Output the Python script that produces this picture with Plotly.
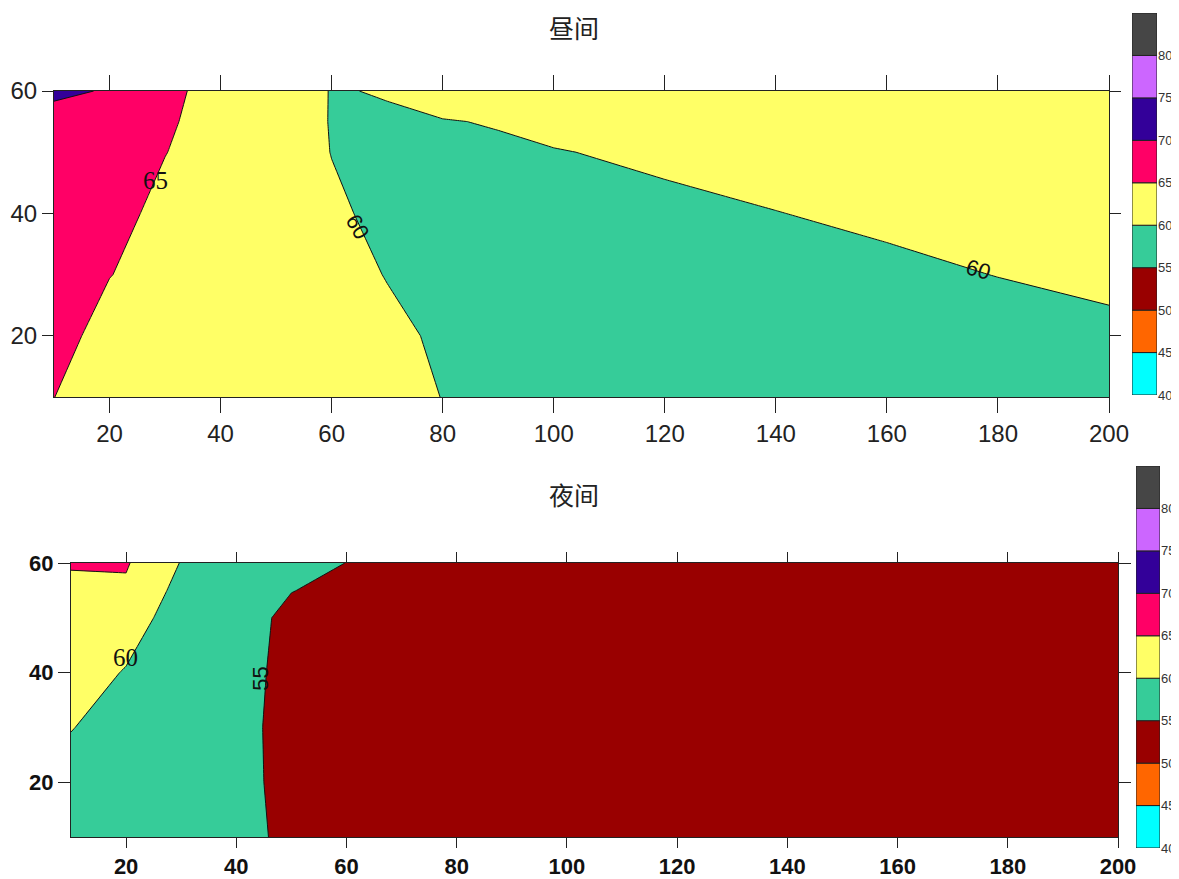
import plotly.graph_objects as go

# ---------------- data ----------------
x_day = [10, 20, 30, 40, 50, 60, 70, 80, 90, 100, 120, 140, 160, 180, 200]
y_day = [10, 20, 30, 40, 50, 55, 60]
z_day = [
    [65.02, 63.8, 63.4, 63.1, 62.8, 62.5, 62.0, 59.9, 59.3, 58.9, 58.4, 58.0, 57.8, 57.6, 57.5],  # y=10
    [66.5, 63.5, 63.0, 62.6, 62.1, 61.5, 60.6, 59.6, 59.3, 59.0, 58.7, 58.5, 58.6, 58.9, 59.4],   # y=20
    [67.5, 65.1, 63.5, 62.5, 61.7, 61.0, 59.9, 59.5, 59.3, 59.1, 59.0, 59.1, 59.45, 60.05, 60.6], # y=30
    [68.0, 66.5, 63.8, 62.8, 61.8, 60.4, 59.4, 59.3, 59.3, 59.4, 59.5, 59.95, 60.5, 60.9, 61.4],  # y=40
    [68.5, 67.5, 65.1, 63.0, 61.5, 59.95, 59.5, 59.6, 59.75, 59.9, 60.4, 61.0, 61.5, 62.0, 62.5], # y=50
    [68.0, 67.8, 65.5, 63.5, 62.0, 59.85, 59.6, 59.92, 60.1, 60.6, 61.0, 61.5, 62.0, 62.5, 63.0], # y=55
    [71.0, 69.6, 66.0, 63.5, 63.0, 59.8, 60.2, 60.8, 61.2, 61.5, 62.0, 62.5, 63.0, 63.5, 64.0],   # y=60
]

x_night = [10, 20, 30, 40, 50, 60, 70, 80, 90, 100, 120, 140, 160, 180, 200]
y_night = [10, 20, 30, 40, 50, 55, 60]
z_night = [
    [58.5, 57.8, 56.6, 55.7, 54.5, 54.0, 53.6, 53.3, 53.1, 52.9, 52.6, 52.4, 52.2, 52.1, 52.0],   # y=10
    [58.9, 58.0, 56.8, 55.6, 54.4, 53.9, 53.6, 53.3, 53.1, 52.9, 52.6, 52.4, 52.2, 52.1, 52.0],   # y=20
    [60.1, 58.8, 57.2, 55.55, 54.4, 53.9, 53.6, 53.3, 53.1, 52.9, 52.7, 52.5, 52.3, 52.2, 52.1],  # y=30
    [61.5, 59.8, 57.5, 55.6, 54.5, 54.0, 53.7, 53.4, 53.2, 53.0, 52.8, 52.6, 52.4, 52.3, 52.2],   # y=40
    [62.5, 61.5, 58.5, 55.9, 54.5, 54.1, 53.8, 53.5, 53.3, 53.1, 52.9, 52.7, 52.5, 52.4, 52.3],   # y=50
    [62.2, 64.3, 58.5, 56.5, 55.05, 54.5, 54.0, 53.7, 53.4, 53.2, 53.0, 52.8, 52.6, 52.5, 52.4],  # y=55
    [66.0, 65.4, 59.8, 57.5, 56.0, 54.97, 54.3, 53.9, 53.6, 53.4, 53.1, 52.9, 52.7, 52.6, 52.5],  # y=60
]

levels = [40, 45, 50, 55, 60, 65, 70, 75, 80, 85]
band_colors = ["#00FFFF", "#FF6600", "#990000", "#36CC99", "#FFFF66",
               "#FF0066", "#330099", "#CC66FF", "#464646"]
x_ticks = [20, 40, 60, 80, 100, 120, 140, 160, 180, 200]
y_ticks = [20, 40, 60]

titles = ["昼间", "夜间"]

# contour labels: (text, x, y, angle, font)
labels_day = [("65", 28.2, 45.3, 0, "serif"), ("60", 64.6, 37.8, 60, "sans"), ("60", 176.4, 30.8, 16, "sans")]
labels_night = [("60", 19.8, 42.8, 0, "serif"), ("55", 44.4, 38.8, -90, "sans")]

# ---------------- colorscale (step) ----------------
# plotly maps band [L, L+5] to colour at L+2.5 on a domain 37.5..87.5
ext_colors = [band_colors[0]] + band_colors + [band_colors[-1]]
n = len(ext_colors)
cscale = []
for i, c in enumerate(ext_colors):
    lo = 0 if i == 0 else (i - 0.5) / (n - 1)
    hi = 1 if i == n - 1 else (i + 0.5) / (n - 1)
    cscale.append([lo, c])
    cscale.append([hi, c])

fig = go.Figure()


def add_contour(x, y, z, xa, ya):
    fig.add_trace(go.Contour(
        x=x, y=y, z=z, xaxis=xa, yaxis=ya,
        colorscale=cscale, showscale=False,
        contours=dict(start=levels[0], end=levels[-1], size=5, coloring="fill", showlines=True),
        line=dict(color="#111111", width=1, smoothing=0),
        hoverinfo="skip",
    ))


add_contour(x_day, y_day, z_day, "x", "y")
add_contour(x_night, y_night, z_night, "x2", "y2")

# colour bars built from levels
for xa, ya in (("x3", "y3"), ("x4", "y4")):
    fig.add_trace(go.Bar(
        x=[0] * len(band_colors), y=[levels[i + 1] - levels[i] for i in range(len(band_colors))],
        base=levels[:-1], width=1, xaxis=xa, yaxis=ya,
        marker=dict(color=band_colors, line=dict(color="#222222", width=1)),
        showlegend=False, hoverinfo="skip",
    ))

# page body has an 8px margin: figure is offset accordingly and reaches the window edge
OFF = 8
W, H = 1179 - OFF, 879 - OFF


def px_dom_x(a, b):
    return [(a - OFF) / W, (b - OFF) / W]


def px_dom_y(top, bottom):
    return [1 - (bottom - OFF) / H, 1 - (top - OFF) / H]


def main_axes(xdom, ydom, bold):
    tf = dict(family="Liberation Sans", size=24, color="#222222")
    xlen, ylen = 15, 11
    if bold:
        tf = dict(family="Liberation Sans", size=22, color="#111111", weight="bold")
        xlen, ylen = 10, 12
    xa = dict(domain=xdom, range=[10, 200], tickvals=x_ticks, ticks="outside", ticklen=xlen,
              tickwidth=1, tickcolor="#222", showline=True, linecolor="#222", linewidth=1,
              mirror="ticks", showgrid=False, zeroline=False, tickfont=tf, automargin=False)
    ya = dict(domain=ydom, range=[10, 60], tickvals=y_ticks, ticks="outside", ticklen=ylen,
              tickwidth=1, tickcolor="#222", showline=True, linecolor="#222", linewidth=1,
              mirror="ticks", showgrid=False, zeroline=False, tickfont=tf, automargin=False)
    return xa, ya


xa1, ya1 = main_axes(px_dom_x(54, 1109), px_dom_y(91, 397), False)
xa2, ya2 = main_axes(px_dom_x(71, 1118), px_dom_y(563, 837), True)
ya1["anchor"] = "x"
xa1["anchor"] = "y"
xa2["anchor"] = "y2"
ya2["anchor"] = "x2"


def cb_axes(xdom, ydom, anchor_x, anchor_y):
    xa = dict(domain=xdom, range=[-0.5, 0.5], visible=False, anchor=anchor_y, automargin=False)
    ya = dict(domain=ydom, range=[levels[0], levels[-1]], side="right", anchor=anchor_x,
              tickvals=levels[:-1], ticks="", showgrid=False, zeroline=False, automargin=False,
              showline=False, tickfont=dict(family="Liberation Sans", size=13, color="#333"))
    return xa, ya


xa3, ya3 = cb_axes(px_dom_x(1132, 1157), px_dom_y(13, 395), "x3", "y3")
xa4, ya4 = cb_axes(px_dom_x(1136, 1160), px_dom_y(466, 848), "x4", "y4")

annotations = []
for t, yy in zip(titles, [27, 494]):
    annotations.append(dict(text=t, x=(574 - OFF) / W, y=1 - (yy - OFF) / H, xref="paper", yref="paper",
                            showarrow=False, xanchor="center", yanchor="middle",
                            font=dict(family="Noto Sans CJK SC", size=25, color="#222")))


def add_labels(lbls, xr, yr):
    for t, x, y, ang, kind in lbls:
        fam = "Liberation Serif" if kind == "serif" else "Liberation Sans"
        sz = 25 if kind == "serif" else 22
        annotations.append(dict(text=t, x=x, y=y, xref=xr, yref=yr, showarrow=False,
                                textangle=ang, font=dict(family=fam, size=sz, color="#111")))


add_labels(labels_day, "x", "y")
add_labels(labels_night, "x2", "y2")

fig.update_layout(
    width=W, height=H, margin=dict(l=0, r=0, t=0, b=0, autoexpand=False),
    paper_bgcolor="white", plot_bgcolor="white", showlegend=False, barmode="overlay",
    xaxis=xa1, yaxis=ya1, xaxis2=xa2, yaxis2=ya2,
    xaxis3=xa3, yaxis3=ya3, xaxis4=xa4, yaxis4=ya4,
    annotations=annotations,
)

fig.write_html("out.html")
